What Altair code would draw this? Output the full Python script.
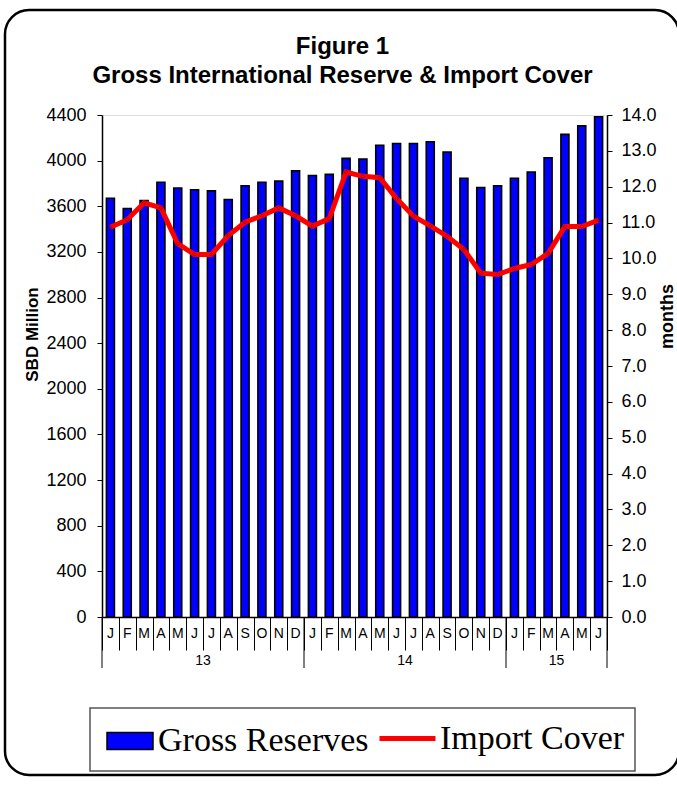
import altair as alt
import pandas as pd

# ---- data ----
years = ["13"] * 12 + ["14"] * 12 + ["15"] * 6
months = ["J", "F", "M", "A", "M", "J", "J", "A", "S", "O", "N", "D"] * 2 + ["J", "F", "M", "A", "M", "J"]
month_num = list(range(1, 13)) * 2 + list(range(1, 7))
reserves = [3670, 3580, 3650, 3810, 3760, 3745, 3735, 3660, 3780, 3810, 3820, 3910,
            3870, 3880, 4020, 4015, 4135, 4150, 4150, 4165, 4075, 3845, 3765, 3780,
            3845, 3900, 4025, 4230, 4305, 4385]
cover = [10.87, 11.08, 11.55, 11.41, 10.41, 10.11, 10.11, 10.64, 11.01, 11.19, 11.41, 11.19,
         10.90, 11.11, 12.41, 12.29, 12.25, 11.67, 11.18, 10.91, 10.62, 10.25, 9.59, 9.55,
         9.72, 9.83, 10.14, 10.89, 10.89, 11.07]

keys = [f"{y}-{m:02d}" for y, m in zip(years, month_num)]
df = pd.DataFrame({
    "key": keys, "month": months, "year": years,
    "reserves": reserves, "cover": cover,
    "s1": "Gross Reserves", "s2": "Import Cover",
})

# year groupings derived from the data
year_list = list(dict.fromkeys(years))
starts = [keys[years.index(y)] for y in year_list]
mids = []
for y in year_list:
    ks = [k for k, yy in zip(keys, years) if yy == y]
    mids.append(ks[len(ks) // 2 - 1])
starts_df = pd.DataFrame({"key": starts})
end_df = pd.DataFrame({"key": [keys[-1]]})
yearlab_df = pd.DataFrame({"key": mids, "year": year_list})

W, H = 505, 502
FONT = "Liberation Sans"

xscale = alt.Scale(domain=keys, paddingInner=0, paddingOuter=0)

base_x = alt.X("key:N", scale=xscale, sort=keys,
               axis=alt.Axis(title=None, labels=False, tickBand="extent", tickSize=33,
                             tickColor="black", domainColor="black", domainWidth=1.5,
                             tickWidth=1, grid=False))

right_axis = alt.Axis(orient="right", values=list(range(0, 15)), format=".1f",
                      title="months", titleFontSize=18, titleFontWeight="bold",
                      titleFont=FONT, titleAngle=270, titleX=60, titleY=201,
                      titleBaseline="middle", titleAlign="center",
                      labelFont=FONT, labelFontSize=18, labelColor="black",
                      labelPadding=9, tickSize=5, tickColor="black", labelOverlap=False,
                      domainColor="black", domainWidth=1.5, grid=False)
right_scale = alt.Scale(domain=[0, 14], nice=False)

bars = alt.Chart(df).mark_bar(size=8, stroke="black", strokeWidth=1.6).encode(
    x=base_x,
    y=alt.Y("reserves:Q", scale=alt.Scale(domain=[0, 4400], nice=False),
            axis=alt.Axis(values=list(range(0, 4401, 400)), format="d", title="SBD Million",
                          titleFontSize=17, titleFontWeight="bold", titleFont=FONT,
                          titleAngle=270, titleX=-70, titleY=219, titleBaseline="middle",
                          titleAlign="center", labelOverlap=False,
                          labelFont=FONT, labelFontSize=18, labelColor="black",
                          labelPadding=11, tickSize=5, tickColor="black",
                          domainColor="black", domainWidth=1.5, grid=False)),
    fill=alt.Fill("s1:N", scale=alt.Scale(domain=["Gross Reserves"], range=["#0000FF"]),
                  legend=alt.Legend(title=None, orient="none", legendX=4, legendY=602,
                                    symbolType="M-1,-0.37L1,-0.37L1,0.37L-1,0.37Z",
                                    symbolSize=2116, symbolStrokeColor="black",
                                    symbolStrokeWidth=1.5, symbolFillColor="#0000FF",
                                    labelFont="Liberation Serif", labelFontSize=34,
                                    labelColor="black", labelLimit=400, labelOffset=4,
                                    padding=0)),
)

month_text = alt.Chart(df).mark_text(font=FONT, fontSize=14, color="black",
                                     baseline="middle").encode(
    x=alt.X("key:N", scale=xscale, sort=keys),
    y=alt.value(H + 17),
    text="month:N",
)

year_rules = alt.Chart(starts_df).mark_rule(color="black", strokeWidth=1).encode(
    x=alt.X("key:N", scale=xscale, sort=keys, bandPosition=0),
    y=alt.value(H), y2=alt.value(H + 51),
)
end_rule = alt.Chart(end_df).mark_rule(color="black", strokeWidth=1).encode(
    x=alt.X("key:N", scale=xscale, sort=keys, bandPosition=1),
    y=alt.value(H), y2=alt.value(H + 51),
)
year_text = alt.Chart(yearlab_df).mark_text(font=FONT, fontSize=14, color="black",
                                            baseline="middle").encode(
    x=alt.X("key:N", scale=xscale, sort=keys, bandPosition=1),
    y=alt.value(H + 44),
    text="year:N",
)

deco = pd.DataFrame({"d": [1]})
legend_box = alt.Chart(deco).mark_rect(fill="white", fillOpacity=0, stroke="#555555",
                                       strokeWidth=1.5).encode(
    x=alt.value(-12), x2=alt.value(533), y=alt.value(593), y2=alt.value(656),
)
outer_box = alt.Chart(deco).mark_rect(fillOpacity=0, stroke="black", strokeWidth=2.5,
                                      cornerRadius=24).encode(
    x=alt.value(-97), x2=alt.value(577), y=alt.value(-105), y2=alt.value(660),
)

line = alt.Chart(df).mark_line(strokeWidth=5).encode(
    x=alt.X("key:N", scale=xscale, sort=keys),
    y=alt.Y("cover:Q", scale=right_scale, axis=right_axis),
    stroke=alt.Stroke("s2:N", scale=alt.Scale(domain=["Import Cover"], range=["#FF0000"]),
                      legend=alt.Legend(title=None, orient="none", legendX=275, legendY=593,
                                        symbolType="stroke", symbolSize=3136,
                                        symbolStrokeWidth=5, symbolStrokeColor="#FF0000",
                                        labelFont="Liberation Serif", labelFontSize=34,
                                        labelColor="black", labelLimit=400, labelOffset=2,
                                        padding=0)),
)
points = alt.Chart(df).mark_point(shape="diamond", size=14, filled=False,
                                  color="#8B0000", strokeWidth=1).encode(
    x=alt.X("key:N", scale=xscale, sort=keys),
    y=alt.Y("cover:Q", scale=right_scale, axis=right_axis),
)

left = alt.layer(outer_box, legend_box, bars, month_text, year_rules, end_rule, year_text)
right = alt.layer(line, points)

chart = alt.layer(left, right).resolve_scale(y="independent").properties(
    width=W, height=H,
    title=alt.TitleParams(text=["Figure 1", "Gross International Reserve & Import Cover"],
                          font=FONT, fontSize=24, fontWeight="bold", color="black",
                          anchor="middle", dx=-12, offset=-79, lineHeight=29),
    autosize=alt.AutoSizeParams(type="none"),
    padding={"left": 102, "top": 115, "right": 70, "bottom": 168},
    background="white",
).configure_view(stroke="black", strokeWidth=1.5).configure(font=FONT)

chart.save("out.html", embed_options={"renderer": "svg", "actions": False})
